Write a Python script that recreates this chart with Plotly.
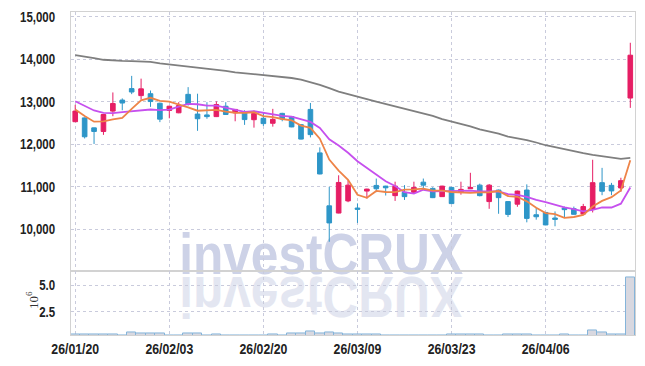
import plotly.graph_objects as go
import pandas as pd

# ---------------- data ----------------
dates = [
    "26/01/20", "26/01/21", "26/01/22", "26/01/23", "26/01/26", "26/01/27", "26/01/28", "26/01/29", "26/01/30", "26/02/02",
    "26/02/03", "26/02/04", "26/02/05", "26/02/06", "26/02/09", "26/02/10", "26/02/11", "26/02/12", "26/02/13", "26/02/19",
    "26/02/20", "26/02/23", "26/02/24", "26/02/25", "26/02/26", "26/02/27", "26/03/03", "26/03/04", "26/03/05", "26/03/06",
    "26/03/09", "26/03/10", "26/03/11", "26/03/12", "26/03/13", "26/03/16", "26/03/17", "26/03/18", "26/03/19", "26/03/20",
    "26/03/23", "26/03/24", "26/03/25", "26/03/26", "26/03/27", "26/03/30", "26/03/31", "26/04/01", "26/04/02", "26/04/03",
    "26/04/06", "26/04/07", "26/04/08", "26/04/09", "26/04/10", "26/04/13", "26/04/14", "26/04/15", "26/04/16", "26/04/17",
]

open_ = [12530, 12620, 12385, 12300, 12780, 13040, 13310, 13145, 13190, 12965,
         12795, 12740, 13175, 12710, 12690, 12650, 12895, 12740, 12740, 12577,
         12610, 12493, 12726, 12650, 12460, 12820, 11795, 10547, 10377, 10663,
         10495, 10895, 11028, 11012, 10787, 10865, 10865, 11105, 10958, 10764,
         10981, 10865, 10950, 11035, 10647, 10919, 10647, 10586, 10919, 10337,
         10391, 10260, 10496, 10480, 10353, 10465, 11093, 11030, 10968, 13088]
high = [12930, 12630, 12390, 12710, 13220, 13080, 13610, 13545, 13265, 12980,
        12910, 12990, 13345, 13190, 12990, 13010, 12990, 12830, 12800, 12795,
        12745, 12833, 12740, 12660, 12470, 12972, 11926, 10995, 11267, 11151,
        10605, 10950, 11190, 11020, 11116, 11035, 11116, 11190, 10985, 11020,
        10995, 11116, 11326, 11070, 11060, 10930, 10660, 10905, 11053, 10500,
        10400, 10414, 10530, 10530, 10593, 11633, 11442, 11088, 11209, 14391]
low = [12520, 12135, 12005, 12220, 12660, 12800, 13180, 13050, 12880, 12520,
       12610, 12730, 12910, 12315, 12600, 12640, 12690, 12540, 12455, 12390,
       12430, 12414, 12540, 12400, 12110, 12160, 11290, 9700, 10370, 10633,
       10144, 10720, 10870, 10790, 10663, 10686, 10833, 10926, 10730, 10755,
       10590, 10810, 10945, 10770, 10477, 10360, 10283, 10525, 10158, 10221,
       10090, 10065, 10260, 10340, 10340, 10391, 10798, 10798, 10875, 12856]
close = [12780, 12175, 12300, 12700, 12960, 12970, 13230, 13305, 13005, 12590,
         12895, 12910, 12950, 12600, 12650, 12935, 12700, 12820, 12580, 12726,
         12485, 12586, 12593, 12407, 12120, 12226, 11298, 10144, 11098, 11035,
         10465, 10942, 10950, 10972, 11012, 10764, 10981, 11035, 10740, 11012,
         10600, 10935, 10981, 10787, 11035, 10740, 10344, 10895, 10251, 10290,
         10097, 10228, 10457, 10347, 10530, 11093, 10891, 10898, 11140, 14098]

# volume in millions of shares
volume_m = [0.40, 0.40, 0.40, 0.40, 0.40, 0.25, 0.55, 0.42, 0.42, 0.42,
            0.25, 0.25, 0.42, 0.42, 0.25, 0.40, 0.25, 0.25, 0.25, 0.25,
            0.25, 0.40, 0.25, 0.42, 0.42, 0.62, 0.45, 0.56, 0.45, 0.40,
            0.40, 0.40, 0.40, 0.25, 0.25, 0.25, 0.25, 0.25, 0.25, 0.25,
            0.40, 0.40, 0.40, 0.40, 0.25, 0.25, 0.40, 0.40, 0.40, 0.25,
            0.25, 0.25, 0.40, 0.25, 0.25, 0.75, 0.55, 0.40, 0.40, 5.80]

# moving-average values before enough in-window closes exist
ma5_lead = [12818, 12663, 12530, 12540]
ma10_lead = [13012, 12895, 12795, 12740, 12733, 12756, 12779, 12810, 12818]

# long moving average (grey line)
ma_long = [14098, 14070, 14030, 13990, 13970, 13962, 13958, 13952, 13940, 13905,
           13880, 13860, 13840, 13818, 13790, 13760, 13730, 13695, 13675, 13655,
           13630, 13610, 13590, 13560, 13520, 13460, 13400, 13320, 13240, 13180,
           13115, 13060, 13005, 12950, 12895, 12840, 12780, 12720, 12665, 12590,
           12535, 12480, 12420, 12350, 12300, 12250, 12180, 12140, 12095, 12040,
           11975, 11930, 11880, 11835, 11790, 11750, 11720, 11685, 11655, 11680]

price_ticks = [10000, 11000, 12000, 13000, 14000, 15000]
vol_ticks = [2.5, 5.0]
date_ticks = dates[::10]

# ---------------- derived ----------------
cs = pd.Series(close, dtype=float)
ma5 = cs.rolling(5).mean().tolist()
ma5[:len(ma5_lead)] = ma5_lead
ma10 = cs.rolling(10).mean().tolist()
ma10[:len(ma10_lead)] = ma10_lead

UP = "#E61E64"
DOWN = "#2E96C8"
GRID = "#c9cbdc"
FRAME = "#d2d2d2"
YFONT = dict(family="Liberation Sans, Arial, sans-serif", size=14, color="#222222", weight="bold")
XFONT = dict(family="Liberation Sans, Arial, sans-serif", size=15, color="#222222", weight="bold")

fig = go.Figure()

fig.add_trace(go.Candlestick(
    x=dates, open=open_, high=high, low=low, close=close,
    increasing=dict(line=dict(color=UP, width=1), fillcolor=UP),
    decreasing=dict(line=dict(color=DOWN, width=1), fillcolor=DOWN),
    whiskerwidth=0, xaxis="x", yaxis="y", hoverinfo="skip"))

fig.add_trace(go.Scatter(x=dates, y=ma_long, mode="lines",
                         line=dict(color="#7f7f7f", width=1.8), xaxis="x", yaxis="y"))
fig.add_trace(go.Scatter(x=dates, y=ma10, mode="lines",
                         line=dict(color="#c650ee", width=1.8), xaxis="x", yaxis="y"))
fig.add_trace(go.Scatter(x=dates, y=ma5, mode="lines",
                         line=dict(color="#ee8448", width=1.8), xaxis="x", yaxis="y"))

fig.add_trace(go.Bar(x=dates, y=volume_m, marker=dict(color="#d8d8e0",
                     line=dict(color="#84b4da", width=1)),
                     xaxis="x2", yaxis="y2"))

split = 0.1967
xcommon = dict(type="category", range=[-0.45, 59.5], showgrid=True, gridcolor=GRID,
               griddash="dot", gridwidth=1, tickvals=date_ticks, showline=True,
               linecolor=FRAME, linewidth=1, mirror=True, ticks="", zeroline=False)

WM_FONT = dict(family="Liberation Sans, Arial, sans-serif", size=57,
               color="#cdd2e7", weight="bold")

fig.update_layout(
    width=645, height=366,
    margin=dict(l=71, r=9, t=9, b=29),
    paper_bgcolor="white", plot_bgcolor="white",
    showlegend=False, bargap=0,
    xaxis=dict(**xcommon, domain=[0, 1], anchor="y", showticklabels=False,
               rangeslider=dict(visible=False)),
    xaxis2=dict(**xcommon, domain=[0, 1], anchor="y2", matches="x",
                showticklabels=True, tickfont=XFONT),
    yaxis=dict(domain=[split, 1], range=[9000, 15116], tickvals=price_ticks,
               tickformat=",", showgrid=True, gridcolor=GRID, griddash="dot",
               showline=True, linecolor=FRAME, mirror=True, ticks="",
               tickfont=YFONT, zeroline=False),
    yaxis2=dict(domain=[0, split], range=[0.31, 6.34], tickvals=vol_ticks,
                tickformat=".1f", showgrid=True, gridcolor=GRID, griddash="dot",
                showline=True, linecolor=FRAME, mirror=True, ticks="",
                tickfont=YFONT, zeroline=False),
    annotations=[
        dict(text="investCRUX", xref="paper", yref="paper", x=0.443, y=(337 - 254.5) / 327.4,
             xanchor="center", yanchor="middle", showarrow=False, font=WM_FONT),
        dict(text="investCRUX", xref="paper", yref="paper", x=0.443, y=(337 - 298.5) / 327.4,
             xanchor="center", yanchor="middle", showarrow=False, opacity=0.55,
             font=WM_FONT),
        dict(text="10<sup>6</sup>", xref="paper", yref="paper", x=-0.068, y=(337 - 302) / 327.4,
             xanchor="center", yanchor="middle", showarrow=False, textangle=-90,
             font=dict(family="Liberation Serif, DejaVu Serif, serif", size=13, color="#333")),
    ],
)

post = """
var gd = document.getElementById('{plot_id}');
function xform(t, sx, sy) {
  var bb = t.getBBox();
  var cx = bb.x + bb.width / 2, cy = bb.y + bb.height / 2;
  var tr = t.getAttribute('transform') || '';
  t.setAttribute('transform', tr + ' translate(' + cx + ',' + cy + ') scale(' + sx + ',' + sy +
                 ') translate(' + (-cx) + ',' + (-cy) + ')');
}
try {
  var a0 = gd.querySelector('.annotation[data-index="0"]');
  var a1 = gd.querySelector('.annotation[data-index="1"]');
  xform(a0.querySelector('text'), 0.87, 1);
  xform(a1.querySelector('text'), 0.87, -1);
  var below = gd.querySelector('.main-svg .layer-below');
  if (below) { below.appendChild(a0); below.appendChild(a1); }
} catch (e) {}
try {
  gd.querySelectorAll('g.xtick text, g.ytick text, g.x2tick text, g.y2tick text').forEach(function (t) {
    var tr = t.getAttribute('transform') || '';
    t.setAttribute('transform', tr + ' scale(0.82,1)');
  });
} catch (e) {}
"""

fig.write_html("out.html", post_script=post)
